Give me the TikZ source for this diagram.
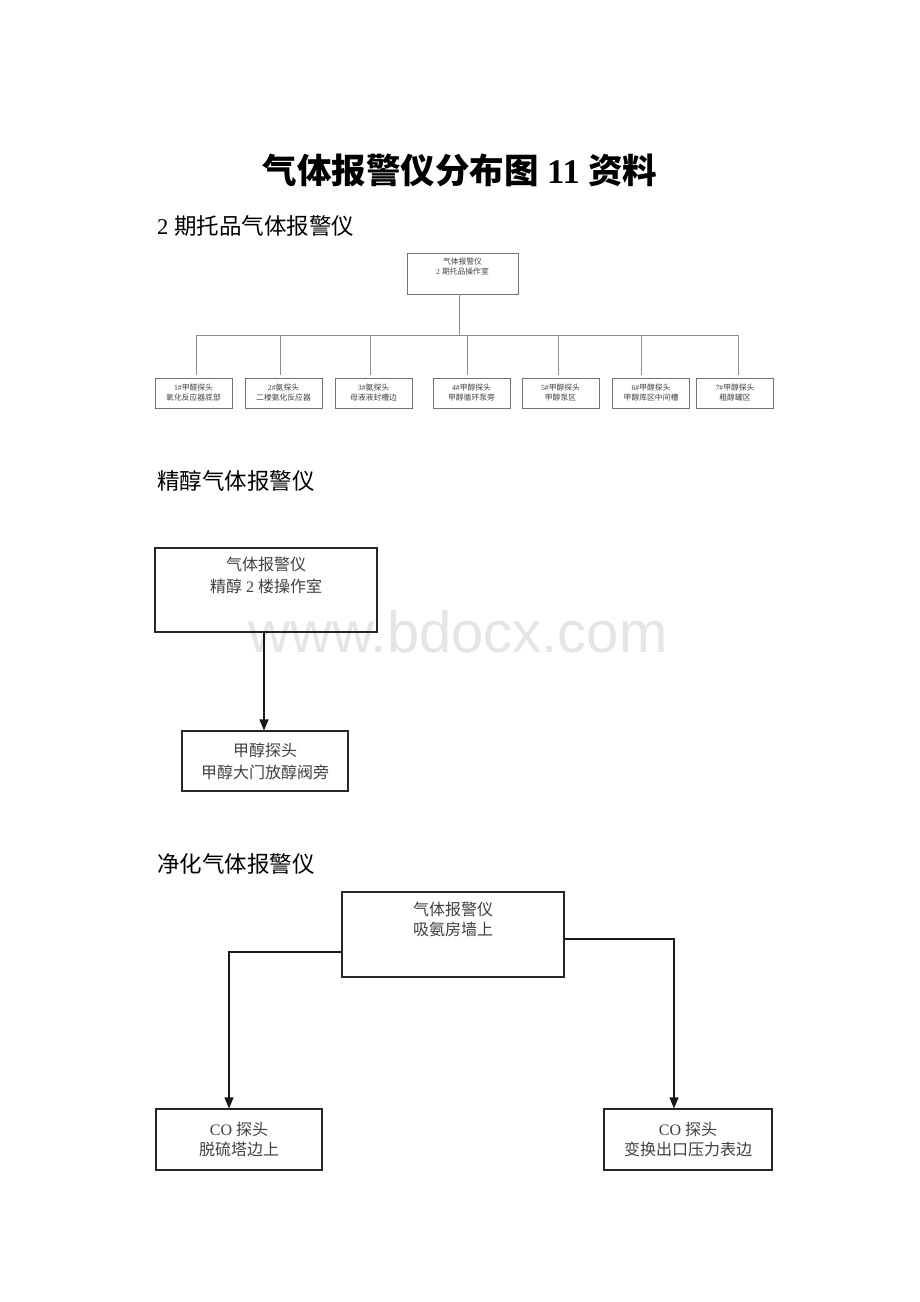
\documentclass[tikz,border=0pt]{standalone}
\usepackage{fontspec}
\setmainfont{Liberation Serif}
\newfontfamily\cjk{Noto Sans CJK SC}
\newfontfamily\wmfont{Liberation Sans}
\usetikzlibrary{arrows.meta}
\newcommand{\zh}[1]{{\cjk #1}}
\begin{document}
\begin{tikzpicture}[x=1pt,y=-1pt,
  sbox/.style={draw=black!55, line width=0.8pt, minimum width=77pt, minimum height=30pt, inner sep=0pt, align=center, text=black!75, font=\fontsize{7.8}{10}\selectfont},
  sline/.style={draw=black!45, line width=0.8pt},
  bbox/.style={draw=black!85, line width=1.1pt, inner sep=0pt},
  btext/.style={align=center, text=black!75, inner sep=0pt},
  arr/.style={draw=black!90, line width=1.2pt, -{Triangle[length=11pt,width=9pt]}},
  head/.style={anchor=west, inner sep=0pt, font=\fontsize{22.5}{26}\selectfont}
]
\useasboundingbox (0,0) rectangle (920,1302);
% watermark
\node[font=\wmfont\fontsize{58}{60}\selectfont, text=black!10, anchor=base, inner sep=0pt] (wm) at (458,652) {www.bdocx.com};

% title and headings
\node[font=\fontsize{34.5}{38}\selectfont\bfseries, inner sep=0pt] (title) at (460,170) {\zh{气体报警仪分布图} 11 \zh{资料}};
\node[head] (h1) at (157,226) {2 \zh{期托品气体报警仪}};
\node[head] (h2) at (157,481) {\zh{精醇气体报警仪}};
\node[head] (h3) at (157,864) {\zh{净化气体报警仪}};

% ---- diagram 1
\node[draw=black!55, line width=0.8pt, minimum width=111pt, minimum height=41pt, inner sep=0pt] (t0) at (462.5,273.5) {};
\node[btext, font=\fontsize{7.8}{10}\selectfont, anchor=north] (t0t) at (462.5,257.5) {\zh{气体报警仪}\\2 \zh{期托品操作室}};
\node[sbox] (b1) at (193.5,393) {1\#\zh{甲醛探头}\\\zh{氧化反应器底部}};
\node[sbox] (b2) at (283.5,393) {2\#\zh{氨探头}\\\zh{二楼氨化反应器}};
\node[sbox] (b3) at (373.5,393) {3\#\zh{氨探头}\\\zh{母液液封槽边}};
\node[sbox] (b4) at (471.5,393) {4\#\zh{甲醇探头}\\\zh{甲醇循环泵旁}};
\node[sbox] (b5) at (560.5,393) {5\#\zh{甲醇探头}\\\zh{甲醇泵区}};
\node[sbox] (b6) at (651,393) {6\#\zh{甲醇探头}\\\zh{甲醇库区中间槽}};
\node[sbox] (b7) at (735,393) {7\#\zh{甲醇探头}\\\zh{粗醇罐区}};
\coordinate (bus0) at (459,335);
\coordinate (bL) at (196,335);
\coordinate (bR) at (738,335);
\draw[sline] (t0.south -| bus0) -- (bus0);
\draw[sline] (bL) -- (bR);
\foreach \i/\x in {1/196,2/280,3/370,4/467,5/558,6/641,7/738}{
  \coordinate (j\i) at (\x,335);
  \draw[sline, shorten >=2.5pt] (j\i) -- (b\i.north -| j\i);
}

% ---- diagram 2
\node[bbox, minimum width=222pt, minimum height=84pt] (m0) at (266,590) {};
\node[btext, font=\fontsize{16}{22}\selectfont, anchor=north] (m0t) at (266,557) {\zh{气体报警仪}\\\zh{精醇} 2 \zh{楼操作室}};
\node[bbox, minimum width=166pt, minimum height=60pt, btext, text=black!75, font=\fontsize{16}{22}\selectfont] (m1) at (265,761) {\zh{甲醇探头}\\\zh{甲醇大门放醇阀旁}};
\coordinate (mx) at (264,600);
\draw[arr] (m0.south -| mx) -- (m1.north -| mx);

% ---- diagram 3
\node[bbox, minimum width=222pt, minimum height=85pt] (n0) at (453,934.5) {};
\node[btext, font=\fontsize{16}{20}\selectfont, anchor=north] (n0t) at (453,902) {\zh{气体报警仪}\\\zh{吸氨房墙上}};
\node[bbox, minimum width=166pt, minimum height=61pt, btext, text=black!75, font=\fontsize{16}{20}\selectfont] (n1) at (239,1139.5) {CO \zh{探头}\\\zh{脱硫塔边上}};
\node[bbox, minimum width=168pt, minimum height=61pt, btext, text=black!75, font=\fontsize{16}{20}\selectfont] (n2) at (688,1139.5) {CO \zh{探头}\\\zh{变换出口压力表边}};
\coordinate (cl) at (229,952);
\coordinate (cr) at (674,939);
\draw[arr] (n0.west |- cl) -- (cl) -- (n1.north -| cl);
\draw[arr] (n0.east |- cr) -- (cr) -- (n2.north -| cr);
\end{tikzpicture}
\end{document}
